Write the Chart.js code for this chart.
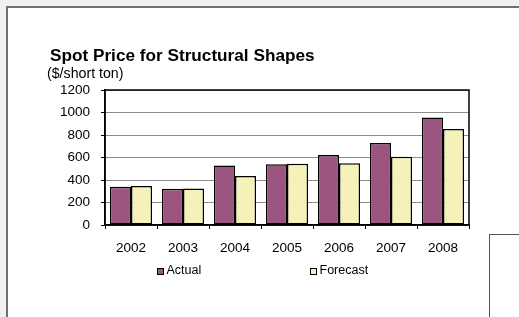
<!DOCTYPE html>
<html>
<head>
<meta charset="utf-8">
<script src="https://cdn.jsdelivr.net/npm/chart.js@4.4.0/dist/chart.umd.min.js"></script>
<style>
  html, body { margin: 0; padding: 0; }
  body { width: 519px; height: 317px; position: relative; overflow: hidden; background: #f0f0f0; font-family: "Liberation Sans", Arial, sans-serif; }
  #frame { position: absolute; left: 6px; top: 6px; right: 0; bottom: 0; background: #fff; border-left: 2px solid #707070; border-top: 2px solid #707070; }
  #box { position: absolute; left: 489px; top: 234px; width: 40px; height: 100px; border-left: 1.5px solid #555; border-top: 1.5px solid #555; }
  #wrap { position: absolute; left: 0; top: 0; width: 519px; height: 317px; }
  .txt { position: absolute; white-space: nowrap; color: #000; }
  #title { left: 50px; top: 46.6px; font-size: 17.2px; line-height: 17px; font-weight: bold; }
  #subtitle { left: 47px; top: 66px; font-size: 14.2px; line-height: 14px; }
  .leg { position: absolute; font-size: 12.5px; line-height: 12.5px; top: 264.4px; white-space: nowrap; }
  .sw { position: absolute; width: 5px; height: 5px; border: 1px solid #000; top: 267.5px; }
</style>
</head>
<body>
<div id="frame"></div>
<div id="box"></div>
<div id="wrap"><canvas id="c" width="519" height="317"></canvas></div>
<div class="txt" id="title">Spot Price for Structural Shapes</div>
<div class="txt" id="subtitle">($/short ton)</div>
<div class="sw" id="sw1" style="left:157px;"></div>
<div class="leg" id="lg1" style="left:166.5px;">Actual</div>
<div class="sw" id="sw2" style="left:310px;"></div>
<div class="leg" id="lg2" style="left:319.5px;">Forecast</div>
<script>
const categories = ["2002", "2003", "2004", "2005", "2006", "2007", "2008"];
const actual = [340, 322, 530, 540, 622, 729, 955];
const forecast = [346, 325, 435, 545, 548, 607, 853];
const seriesNames = ["Actual", "Forecast"];
const seriesColors = ["#9c5580", "#f4f1b9"];
const yTicks = [0, 200, 400, 600, 800, 1000, 1200];

document.getElementById('sw1').style.background = seriesColors[0];
document.getElementById('sw2').style.background = seriesColors[1];

const borderPlugin = {
  id: 'plotBorder',
  afterDatasetsDraw(chart) {
    const a = chart.chartArea, ctx = chart.ctx;
    ctx.save();
    ctx.strokeStyle = '#000';
    ctx.lineWidth = 1.5;
    ctx.strokeRect(a.left, a.top, a.right - a.left, a.bottom - a.top);
    ctx.restore();
  }
};

new Chart(document.getElementById('c'), {
  type: 'bar',
  data: {
    labels: categories,
    datasets: [
      { label: seriesNames[0], data: actual, backgroundColor: seriesColors[0], borderColor: '#000', borderWidth: 1.5, borderSkipped: false },
      { label: seriesNames[1], data: forecast, backgroundColor: seriesColors[1], borderColor: '#000', borderWidth: 1.5, borderSkipped: false }
    ]
  },
  options: {
    responsive: false,
    animation: false,
    devicePixelRatio: 1,
    layout: { padding: { left: 0, right: 50, top: 90, bottom: 0 } },
    plugins: { legend: { display: false }, title: { display: false }, tooltip: { enabled: false } },
    datasets: { bar: { categoryPercentage: 0.81, barPercentage: 1.0 } },
    scales: {
      x: {
        offset: true,
        grid: { display: true, drawOnChartArea: false, drawTicks: true, tickLength: 4, color: '#000', offset: true },
        border: { display: true, color: '#000', width: 1.5 },
        ticks: { color: '#000', font: { family: 'Liberation Sans', size: 13.5 }, padding: 11, maxRotation: 0 },
        afterFit(s) { s.height = 92; }
      },
      y: {
        min: 0, max: 1200,
        afterBuildTicks(s) { s.ticks = yTicks.map(v => ({ value: v })); },
        grid: { color: '#8c8c8c', lineWidth: 1, drawTicks: true, tickLength: 4, tickColor: '#000' },
        border: { display: true, color: '#000', width: 1.5 },
        ticks: { color: '#000', font: { family: 'Liberation Sans', size: 13.5 }, padding: 11, callback: v => String(v) },
        afterFit(s) { s.width = 105; }
      }
    }
  },
  plugins: [borderPlugin]
});
</script>
</body>
</html>
